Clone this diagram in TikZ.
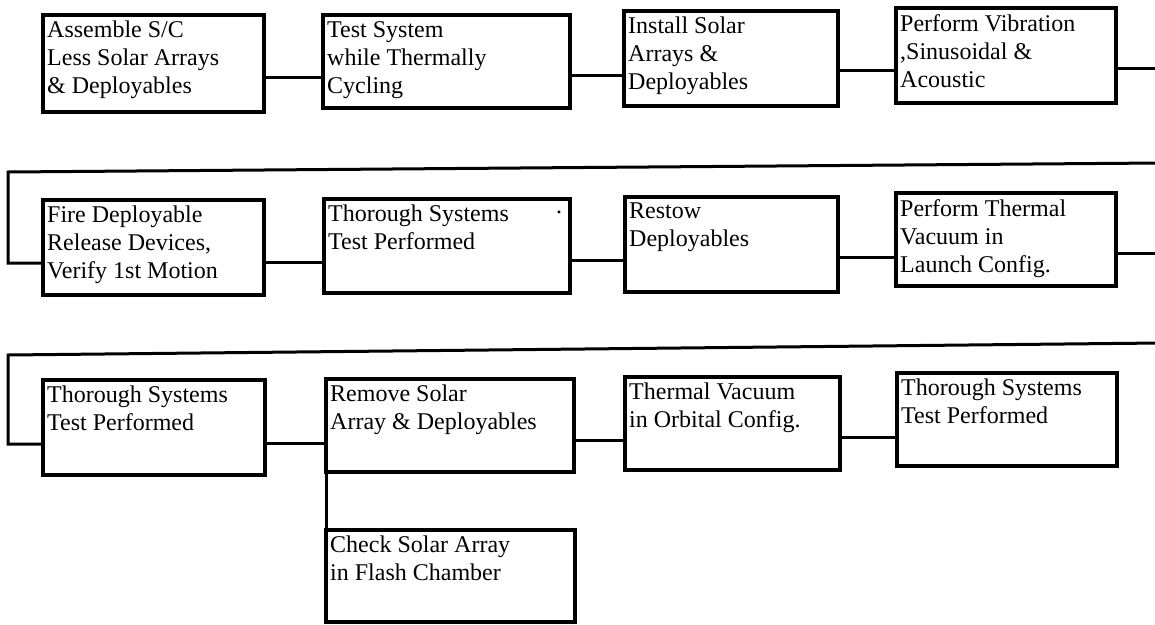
\documentclass[tikz,border=0pt]{standalone}
\usepackage{fontspec}
\setmainfont{Liberation Serif}
\begin{document}
\begin{tikzpicture}[x=1pt,y=-1pt,
  stepbox/.style={draw, line width=3.4pt, inner sep=0pt, outer sep=0pt, anchor=north west},
  boxtext/.style={anchor=north west, align=left, inner sep=0pt,
    font=\fontsize{24}{28}\selectfont, execute at begin node={\rule{0pt}{17pt}}},
  link/.style={line width=3pt}]
\useasboundingbox (0,0) rectangle (1155,624);

% ---- row 1 ----
\node[stepbox, minimum width=221pt, minimum height=97pt] (b1) at (43,15) {};
\node[stepbox, minimum width=247pt, minimum height=93pt] (b2) at (323,15) {};
\node[stepbox, minimum width=214pt, minimum height=95pt] (b3) at (624,11) {};
\node[stepbox, minimum width=220pt, minimum height=95pt] (b4) at (896,8) {};

% ---- row 2 ----
\node[stepbox, minimum width=221pt, minimum height=95pt] (b5) at (43,200) {};
\node[stepbox, minimum width=246pt, minimum height=94pt] (b6) at (324,199) {};
\node[stepbox, minimum width=213pt, minimum height=95pt] (b7) at (625,197) {};
\node[stepbox, minimum width=220pt, minimum height=93pt] (b8) at (896,193) {};

% ---- row 3 ----
\node[stepbox, minimum width=222pt, minimum height=95pt] (b9) at (43,380) {};
\node[stepbox, minimum width=248pt, minimum height=93pt] (b10) at (326,379) {};
\node[stepbox, minimum width=215pt, minimum height=93pt] (b12) at (625,377) {};
\node[stepbox, minimum width=220pt, minimum height=93pt] (b13) at (897,373) {};
\node[stepbox, minimum width=249pt, minimum height=92pt] (b11) at (326,530) {};

% ---- box texts ----
\node[boxtext] (t1) at ([xshift=4pt,yshift=-6pt]b1.north west) {Assemble S/C\\Less Solar Arrays\\\& Deployables};
\node[boxtext] (t2) at ([xshift=4pt,yshift=-6pt]b2.north west) {Test System\\while Thermally\\Cycling};
\node[boxtext] (t3) at ([xshift=4pt,yshift=-6pt]b3.north west) {Install Solar\\Arrays \&\\Deployables};
\node[boxtext] (t4) at ([xshift=4pt,yshift=-6pt]b4.north west) {Perform Vibration\\,Sinusoidal \&\\Acoustic};
\node[boxtext] (t5) at ([xshift=4pt,yshift=-6pt]b5.north west) {Fire Deployable\\Release Devices,\\Verify 1st Motion};
\node[boxtext] (t6) at ([xshift=4pt,yshift=-6pt]b6.north west) {Thorough Systems\\Test Performed};
\node[anchor=base, inner sep=0pt, font=\fontsize{24}{28}\selectfont] (dot6) at (559,213) {.};
\node[boxtext] (t7) at ([xshift=4pt,yshift=-6pt]b7.north west) {Restow\\Deployables};
\node[boxtext] (t8) at ([xshift=4pt,yshift=-6pt]b8.north west) {Perform Thermal\\Vacuum in\\Launch Config.};
\node[boxtext] (t9) at ([xshift=4pt,yshift=-6pt]b9.north west) {Thorough Systems\\Test Performed};
\node[boxtext] (t10) at ([xshift=4pt,yshift=-6pt]b10.north west) {Remove Solar\\Array \& Deployables};
\node[boxtext] (t12) at ([xshift=4pt,yshift=-6pt]b12.north west) {Thermal Vacuum\\in Orbital Config.};
\node[boxtext] (t13) at ([xshift=4pt,yshift=-6pt]b13.north west) {Thorough Systems\\Test Performed};
\node[boxtext] (t11) at ([xshift=4pt,yshift=-6pt]b11.north west) {Check Solar Array\\in Flash Chamber};

% ---- connectors, row 1 ----
\draw[link] (b1.east |- 0,77) -- (b2.west |- 0,77);
\draw[link] (b2.east |- 0,75) -- (b3.west |- 0,75);
\draw[link] (b3.east |- 0,70) -- (b4.west |- 0,70);
\coordinate (r1out) at (1160,68);
\draw[link] (b4.east |- 0,68) -- (r1out);

% ---- connectors, row 2 ----
\coordinate (r2in) at (1160,163);
\coordinate (r2turn) at (8,172);
\draw[link] (r2in) -- (r2turn) |- (b5.west |- 0,263);
\draw[link] (b5.east |- 0,262) -- (b6.west |- 0,262);
\draw[link] (b6.east |- 0,260) -- (b7.west |- 0,260);
\draw[link] (b7.east |- 0,257) -- (b8.west |- 0,257);
\coordinate (r2out) at (1160,253);
\draw[link] (b8.east |- 0,253) -- (r2out);

% ---- connectors, row 3 ----
\coordinate (r3in) at (1160,343);
\coordinate (r3turn) at (8,355);
\draw[link] (r3in) -- (r3turn) |- (b9.west |- 0,444);
\draw[link] (b9.east |- 0,443) -- (b10.west |- 0,443);
\draw[link] (b10.east |- 0,440) -- (b12.west |- 0,440);
\draw[link] (b12.east |- 0,437) -- (b13.west |- 0,437);
\draw[link] (b10.south west) -- (b11.north west);
\end{tikzpicture}
\end{document}
